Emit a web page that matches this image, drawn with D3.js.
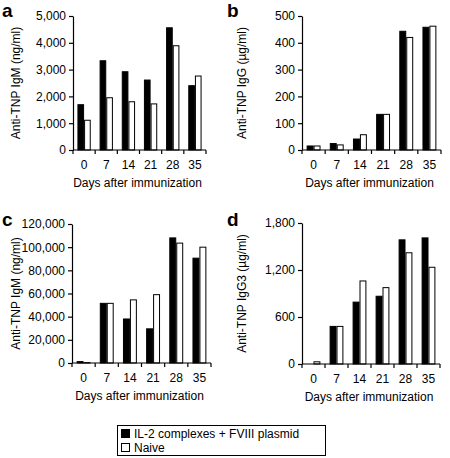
<!DOCTYPE html>
<html>
<head>
<meta charset="utf-8">
<script src="https://cdn.jsdelivr.net/npm/d3@7"></script>
<style>
  html, body { margin: 0; padding: 0; background: #fff; }
  svg { display: block; font-family: "Liberation Sans", Arial, sans-serif; }
</style>
</head>
<body>
<svg id="chart" width="450" height="458"></svg>
<script>
// ---- Data ----
const days = ["0", "7", "14", "21", "28", "35"];
const seriesNames = ["IL-2 complexes + FVIII plasmid", "Naive"];

const igmA_treated = [1690, 3330, 2920, 2610, 4560, 2400];
const igmA_naive   = [1110, 1950, 1800, 1720, 3890, 2760];

const iggB_treated = [15, 24, 41, 133, 443, 458];
const iggB_naive   = [15, 19, 57, 133, 420, 462];

const igmC_treated = [1200, 51500, 38000, 29500, 108000, 90500];
const igmC_naive   = [300, 51500, 54500, 59000, 103500, 100000];

const igg3D_treated = [0, 480, 790, 865, 1585, 1610];
const igg3D_naive   = [28, 480, 1060, 975, 1420, 1235];

const ticksA = [0, 1000, 2000, 3000, 4000, 5000];
const ticksB = [0, 100, 200, 300, 400, 500];
const ticksC = [0, 20000, 40000, 60000, 80000, 100000, 120000];
const ticksD = [0, 600, 1200, 1800];

const yTitles = ["Anti-TNP IgM (ng/ml)", "Anti-TNP IgG (\u00b5g/ml)", "Anti-TNP IgM (ng/ml)", "Anti-TNP IgG3 (\u00b5g/ml)"];
const panelLetters = ["a", "b", "c", "d"];
const xTitle = "Days after immunization";

// ---- Layout ----
const panels = [
  { letter: panelLetters[0], title: yTitles[0], t: igmA_treated, n: igmA_naive, ticks: ticksA,
    x0: 73, x1: 206, yTop: 16, yBot: 150, lx: 2, ly: 17, tx: 16 },
  { letter: panelLetters[1], title: yTitles[1], t: iggB_treated, n: iggB_naive, ticks: ticksB,
    x0: 302, x1: 441, yTop: 16, yBot: 150, lx: 227, ly: 17, tx: 242 },
  { letter: panelLetters[2], title: yTitles[2], t: igmC_treated, n: igmC_naive, ticks: ticksC,
    x0: 72, x1: 211, yTop: 224, yBot: 363, lx: 2, ly: 226, tx: 16 },
  { letter: panelLetters[3], title: yTitles[3], t: igg3D_treated, n: igg3D_naive, ticks: ticksD,
    x0: 302, x1: 440, yTop: 223, yBot: 364, lx: 227, ly: 226, tx: 242 }
];

const svg = d3.select("#chart");
const fmt = d3.format(",");

panels.forEach(p => {
  const g = svg.append("g");
  const x = d3.scaleBand().domain(days).range([p.x0, p.x1]).paddingInner(0.4).paddingOuter(0.2);
  const sub = d3.scaleBand().domain(["t", "n"]).range([0, x.bandwidth()]);
  const y = d3.scaleLinear().domain([0, p.ticks[p.ticks.length - 1]]).range([p.yBot, p.yTop]);

  // bars
  days.forEach((d, i) => {
    [["t", p.t[i], "#000"], ["n", p.n[i], "#fff"]].forEach(([k, v, fill]) => {
      g.append("rect")
        .attr("x", x(d) + sub(k) + 0.5)
        .attr("y", y(v))
        .attr("width", sub.bandwidth() - 1)
        .attr("height", Math.max(0, y(0) - y(v)))
        .attr("fill", fill)
        .attr("stroke", "#000")
        .attr("stroke-width", 1);
    });
  });

  // y axis
  const ya = g.append("g").attr("transform", `translate(${p.x0},0)`)
    .call(d3.axisLeft(y).tickValues(p.ticks).tickFormat(fmt).tickSize(4).tickSizeOuter(0).tickPadding(3));
  ya.selectAll("text").attr("font-size", 12).attr("fill", "#000")
    .attr("font-family", "Liberation Sans, Arial, sans-serif");
  ya.selectAll("line, path").attr("stroke", "#000").attr("stroke-width", 1.2);

  // x axis: baseline with ticks at group boundaries
  g.append("line").attr("x1", p.x0).attr("x2", p.x1).attr("y1", p.yBot).attr("y2", p.yBot)
    .attr("stroke", "#000").attr("stroke-width", 1.2);
  const step = x.step();
  const bounds = d3.range(days.length + 1).map(i => p.x0 + i * (p.x1 - p.x0) / days.length);
  bounds.forEach(bx => {
    g.append("line").attr("x1", bx).attr("x2", bx).attr("y1", p.yBot).attr("y2", p.yBot + 4)
      .attr("stroke", "#000").attr("stroke-width", 1.2);
  });
  days.forEach(d => {
    g.append("text").attr("x", x(d) + x.bandwidth() / 2).attr("y", p.yBot + 19)
      .attr("text-anchor", "middle").attr("font-size", 12).text(d);
  });
  g.append("text").attr("x", (p.x0 + p.x1) / 2 - 2).attr("y", p.yBot + 37)
    .attr("text-anchor", "middle").attr("font-size", 12).text(xTitle);

  // y title
  g.append("text")
    .attr("transform", `translate(${p.tx},${(p.yTop + p.yBot) / 2}) rotate(-90)`)
    .attr("text-anchor", "middle").attr("dy", "0.35em").attr("font-size", 12).text(p.title);

  // panel letter
  g.append("text").attr("x", p.lx).attr("y", p.ly).attr("font-size", 19)
    .attr("font-weight", "bold").text(p.letter);
});

// legend
const lg = svg.append("g");
lg.append("rect").attr("x", 117.5).attr("y", 425.5).attr("width", 208).attr("height", 30)
  .attr("fill", "#fff").attr("stroke", "#000").attr("stroke-width", 1);
seriesNames.forEach((name, i) => {
  lg.append("rect").attr("x", 121.5).attr("y", 429.5 + i * 14).attr("width", 8).attr("height", 8)
    .attr("fill", i === 0 ? "#000" : "#fff").attr("stroke", "#000").attr("stroke-width", 1);
  lg.append("text").attr("x", 134).attr("y", 438 + i * 14).attr("font-size", 12).text(name);
});
</script>
</body>
</html>
